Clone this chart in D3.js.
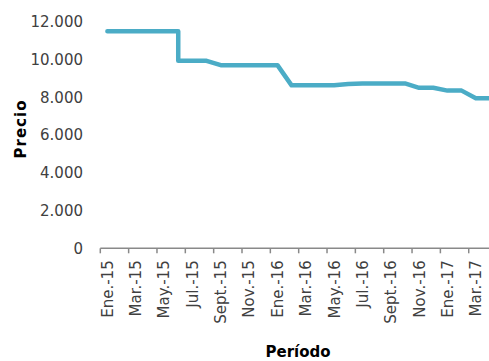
<!DOCTYPE html>
<html>
<head>
<meta charset="utf-8">
<script src="https://cdn.jsdelivr.net/npm/d3@7"></script>
<style>
  html, body { margin: 0; padding: 0; background: #ffffff; }
  svg { display: block; }
  text { font-family: "DejaVu Sans", sans-serif; fill: #404040; }
</style>
</head>
<body>
<svg id="chart" width="489" height="361"></svg>
<script>
// Monthly category slots on the horizontal axis
const months = [
  "Ene.-15","Feb.-15","Mar.-15","Abr.-15","May.-15","Jun.-15","Jul.-15","Ago.-15",
  "Sept.-15","Oct.-15","Nov.-15","Dic.-15",
  "Ene.-16","Feb.-16","Mar.-16","Abr.-16","May.-16","Jun.-16","Jul.-16","Ago.-16",
  "Sept.-16","Oct.-16","Nov.-16","Dic.-16",
  "Ene.-17","Feb.-17","Mar.-17","Abr.-17"
];

// Price observations (June 2015 has two: before and after the change)
const periods = [
  "Ene.-15","Feb.-15","Mar.-15","Abr.-15","May.-15","Jun.-15","Jun.-15","Jul.-15","Ago.-15",
  "Sept.-15","Oct.-15","Nov.-15","Dic.-15",
  "Ene.-16","Feb.-16","Mar.-16","Abr.-16","May.-16","Jun.-16","Jul.-16","Ago.-16",
  "Sept.-16","Oct.-16","Nov.-16","Dic.-16",
  "Ene.-17","Feb.-17","Mar.-17","Abr.-17"
];
const prices = [
  11500, 11500, 11500, 11500, 11500, 11500, 9930, 9930, 9930,
  9700, 9700, 9700, 9700,
  9700, 8630, 8630, 8630, 8640, 8700, 8730, 8730,
  8730, 8730, 8500, 8500,
  8350, 8350, 7950, 7950
];

// Axis labels
const yTicks = [0, 2000, 4000, 6000, 8000, 10000, 12000];
const xTickLabels = ["Ene.-15","Mar.-15","May.-15","Jul.-15","Sept.-15","Nov.-15",
  "Ene.-16","Mar.-16","May.-16","Jul.-16","Sept.-16","Nov.-16","Ene.-17","Mar.-17"];
const yTitle = "Precio";
const xTitle = "Período";

const svg = d3.select("#chart");

const slot = 14.17;
const x = d3.scaleBand()
  .domain(months)
  .range([100.3, 100.3 + slot * months.length])
  .padding(0);

const y = d3.scaleLinear()
  .domain([0, 12000])
  .range([248.3, 21.7]);

const es = d3.formatLocale({ decimal: ",", thousands: ".", grouping: [3], currency: ["$", ""] });
const fmt = es.format(",.0f");

// Y tick labels (no axis line, no gridlines)
svg.append("g")
  .selectAll("text")
  .data(yTicks)
  .join("text")
  .attr("x", 83)
  .attr("y", d => y(d))
  .attr("dy", "0.36em")
  .attr("text-anchor", "end")
  .style("font-size", "15px")
  .text(d => fmt(d));

// X axis line and tick marks at the left edge of every second month
const axisG = svg.append("g");
axisG.append("line")
  .attr("x1", x.range()[0])
  .attr("x2", x.range()[1])
  .attr("y1", y(0))
  .attr("y2", y(0))
  .attr("stroke", "#898989")
  .attr("stroke-width", 1.5);

const tickMonths = months.filter((m, i) => i % 2 === 0);
axisG.selectAll("line.tick")
  .data(tickMonths.concat(["__end"]))
  .join("line")
  .attr("class", "tick")
  .attr("x1", d => d === "__end" ? x.range()[1] : x(d))
  .attr("x2", d => d === "__end" ? x.range()[1] : x(d))
  .attr("y1", y(0))
  .attr("y2", y(0) + 5)
  .attr("stroke", "#898989")
  .attr("stroke-width", 1.5);

// Rotated month labels centered in their slots
axisG.selectAll("text")
  .data(xTickLabels)
  .join("text")
  .attr("transform", d => `translate(${x(d) + x.bandwidth() / 2},${y(0) + 12}) rotate(-90)`)
  .attr("text-anchor", "end")
  .attr("dy", "0.36em")
  .style("font-size", "15px")
  .text(d => d);

// Price line
const pts = periods.map((p, i) => ({ p, v: prices[i] }));
const line = d3.line()
  .x(d => x(d.p) + x.bandwidth() / 2)
  .y(d => y(d.v));

svg.append("path")
  .datum(pts)
  .attr("d", line)
  .attr("fill", "none")
  .attr("stroke", "#4bacc6")
  .attr("stroke-width", 4.5)
  .attr("stroke-linejoin", "round")
  .attr("stroke-linecap", "round");

// Axis titles
svg.append("text")
  .attr("transform", "translate(21,129) rotate(-90)")
  .attr("text-anchor", "middle")
  .attr("dy", "0.36em")
  .style("font-size", "15px")
  .style("font-weight", "bold")
  .style("fill", "#000")
  .style("letter-spacing", "1px")
  .text(yTitle);

svg.append("text")
  .attr("x", 298)
  .attr("y", 357)
  .attr("text-anchor", "middle")
  .style("font-size", "15px")
  .style("font-weight", "bold")
  .style("fill", "#000")
  .text(xTitle);
</script>
</body>
</html>
